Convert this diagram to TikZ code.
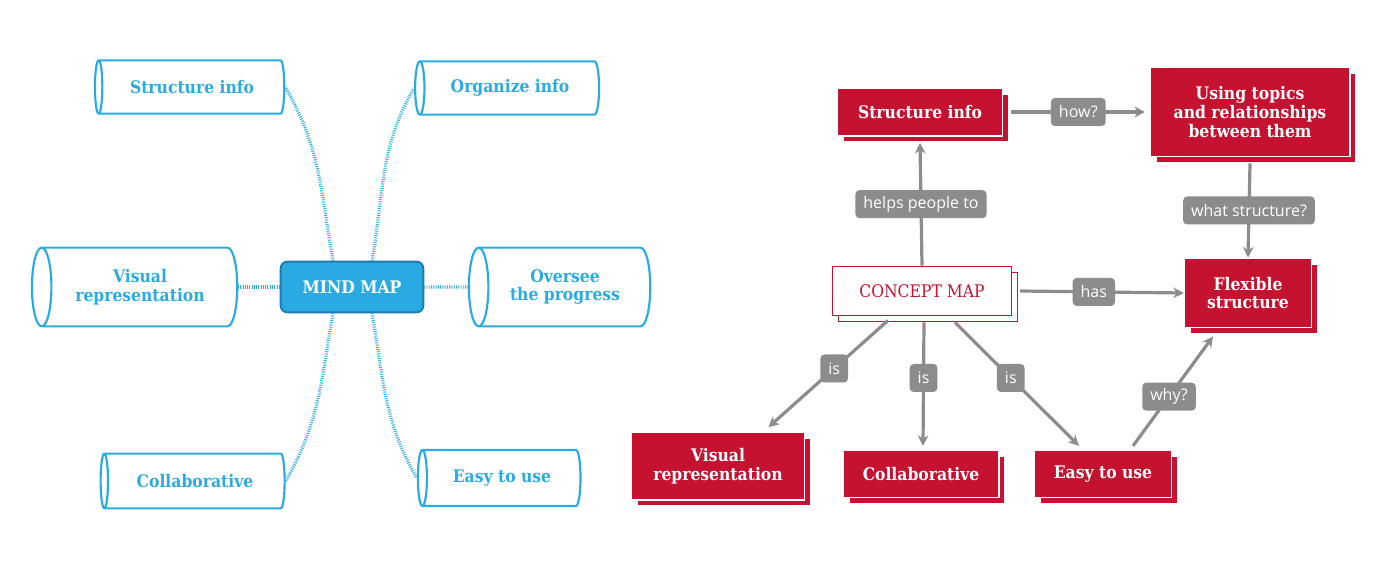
\documentclass[tikz,border=0pt]{standalone}
\usepackage{fontspec}
\setmainfont{DejaVu Serif Condensed}
\newfontfamily\lblfont{Open Sans}
\usetikzlibrary{shapes.geometric,shadows,arrows.meta,calc}
\definecolor{mmblue}{HTML}{29ABE2}
\definecolor{mmdark}{HTML}{1B7DB5}
\definecolor{cmred}{HTML}{C41230}
\definecolor{cmgray}{HTML}{8C8C8E}
\tikzset{
  cyl/.style={cylinder, shape border rotate=180, shape aspect=0.55, draw=mmblue, line width=1.6pt,
    text=mmblue, font=\fontsize{13}{14}\selectfont\bfseries, align=center, inner sep=0pt},
  dots/.style={mmblue, line width=2.4pt, dash pattern=on 0.7pt off 1pt},
  red box/.style={fill=cmred, draw=white, line width=1.2pt, text=white, align=center,
    font=\fontsize{13}{14}\selectfont\bfseries,
    copy shadow={shadow xshift=4.5pt, shadow yshift=-4.5pt}},
  lbl/.style={fill=cmgray, rounded corners=3pt, text=white, font=\lblfont\fontsize{12}{13}\selectfont,
    inner xsep=6pt, minimum height=21pt},
  arr/.style={cmgray, line width=2.4pt, -{Stealth[length=8pt,width=8pt]}}
}
\begin{document}
\begin{tikzpicture}[x=0.75pt,y=0.75pt]
\useasboundingbox (0,0) rectangle (1400,-563);
% mind map
\node[fill=mmblue, draw=mmdark, line width=1.4pt, rounded corners=5pt, minimum width=107pt, minimum height=38pt,
  text=white, font=\fontsize{13}{14}\selectfont\bfseries] (mind) at (352,-287) {MIND MAP};
\node[cyl, minimum height=142pt, minimum width=40pt] (mstruct) at (192,-87) {Structure info};
\node[cyl, minimum height=138pt, minimum width=40pt] (morg) at (510,-88) {Organize info};
\node[cyl, minimum height=154pt, minimum width=59pt] (mvis) at (140,-287) {Visual\\representation};
\node[cyl, minimum height=136pt, minimum width=59pt] (mover) at (565,-287) {Oversee\\the progress};
\node[cyl, minimum height=138pt, minimum width=41pt] (mcoll) at (195,-481) {Collaborative};
\node[cyl, minimum height=122pt, minimum width=42pt] (measy) at (502,-478) {Easy to use};

\draw[dots] ($(mind.north)+(-19,0)$) to[out=100,in=-60] (mstruct.east);
\draw[dots] ($(mind.north)+(20,0)$) to[out=80,in=240] (morg.west);
\draw[dots] (mind.west) -- (mvis.east);
\draw[dots] (mind.east) -- (mover.west);
\draw[dots] ($(mind.south)+(-19,0)$) to[out=-100,in=60] (mcoll.east);
\draw[dots] ($(mind.south)+(20,0)$) to[out=-80,in=120] (measy.west);

% concept map
\node[red box, fill=white, draw=cmred, text=cmred, font=\fontsize{13}{14}\selectfont, minimum width=134pt, minimum height=37pt] (concept) at (922,-291) {CONCEPT MAP};
\node[red box, minimum width=124pt, minimum height=36pt] (cstruct) at (920,-112) {Structure info};
\node[red box, minimum width=150pt, minimum height=67pt] (ctopics) at (1250,-112) {Using topics\\and relationships\\between them};
\node[red box, minimum width=95pt, minimum height=52pt] (cflex) at (1248,-293) {Flexible\\structure};
\node[red box, minimum width=130pt, minimum height=51pt] (cvis) at (718,-466) {Visual\\representation};
\node[red box, minimum width=117pt, minimum height=35pt] (ccoll) at (921,-474) {Collaborative};
\node[red box, minimum width=103pt, minimum height=35pt] (ceasy) at (1103,-474) {Easy to use};

\draw[arr] ($(cstruct.east)+(8,0)$) -- ($(ctopics.west)+(-4,0)$) node[lbl, pos=0.5] {how?};
\draw[arr] (concept.north) -- ($(cstruct.south)+(0,-6)$) node[lbl, pos=0.5] {helps people to};
\draw[arr] ($(ctopics.south)+(0,-6)$) -- (cflex.north) node[lbl, pos=0.5] {what structure?};
\draw[arr] ($(concept.east)+(8,0)$) -- (cflex.west) node[lbl, pos=0.45] {has};
\draw[arr] ($(concept.south)+(-34,-4)$) -- ($(cvis.north east)+(-37,4)$) node[lbl, pos=0.45] {is};
\draw[arr] ($(concept.south)+(2,-6)$) -- ($(ccoll.north)+(2,4)$) node[lbl, pos=0.45] {is};
\draw[arr] ($(concept.south)+(33,-6)$) -- ($(ceasy.north)+(-24,4)$) node[lbl, pos=0.45] {is};
\draw[arr] ($(ceasy.north)+(30,4)$) -- ($(cflex.south)+(-35,-8)$) node[lbl, pos=0.45] {why?};
\end{tikzpicture}
\end{document}
